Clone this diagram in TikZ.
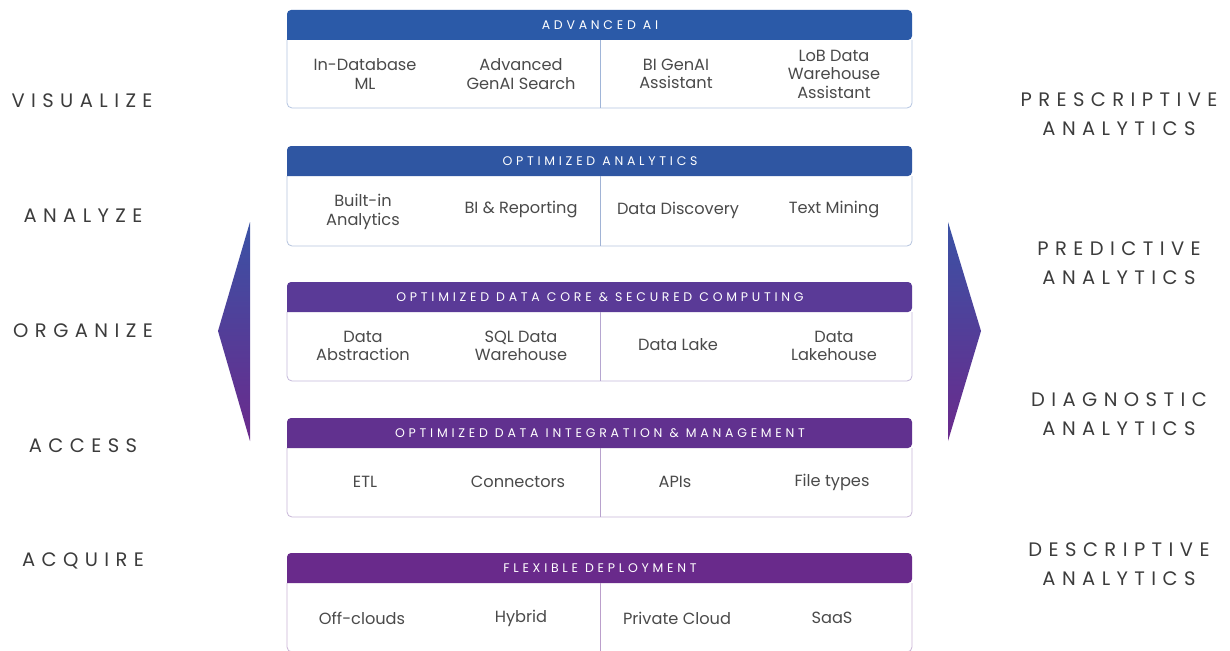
\documentclass[tikz,border=0pt]{standalone}
\usepackage{fontspec}
\setmainfont{Poppins}
\newfontfamily\sidefont[LetterSpace=33]{Poppins}
\newfontfamily\hdrfont[LetterSpace=30]{Poppins}
\definecolor{txt}{HTML}{3C3C3C}
\definecolor{celltxt}{HTML}{4A4A4A}
\definecolor{bandA}{HTML}{2B5AA8}
\definecolor{bandB}{HTML}{2F56A2}
\definecolor{bandC}{HTML}{5A3A97}
\definecolor{bandD}{HTML}{61318F}
\definecolor{bandE}{HTML}{692A8B}
\definecolor{arrtop}{HTML}{3A52A5}
\definecolor{arrbot}{HTML}{6B2A8C}
\newcommand\mkband[5]{%
  \draw[#3!35, line width=0.8pt, rounded corners=5pt] (287,#1+30) -- (287,#2) -- (912,#2) -- (912,#1+30);
  \fill[#3, rounded corners=4pt] (287,#1+30) -- (287,#1) -- (912,#1) -- (912,#1+30) [sharp corners] -- cycle;
  \draw[#3!45, line width=0.8pt] (600,#1+30) -- (600,#2);
  \node[hdrtext] (#5) at (600,#1+15.5) {#4};
}
\begin{document}
\begin{tikzpicture}[x=1pt,y=-1pt,
  hdrtext/.style={text=white, font=\hdrfont\fontsize{12.5}{14}\selectfont, inner sep=0pt},
  cell/.style={text=celltxt, align=center, font=\fontsize{16.2}{18.5}\selectfont, inner sep=0pt},
  sidelabel/.style={text=txt, align=center, font=\sidefont\fontsize{19.5}{28.5}\selectfont, inner sep=0pt}]
\useasboundingbox (0,0) rectangle (1230,650);
\fill[white] (0,0) rectangle (1230,650);

% bands
\mkband{10}{108}{bandA}{ADVANCED AI}{h1}
\mkband{146}{246}{bandB}{OPTIMIZED ANALYTICS}{h2}
\mkband{282}{381}{bandC}{OPTIMIZED DATA CORE \& SECURED COMPUTING}{h3}
\mkband{418}{517}{bandD}{OPTIMIZED DATA INTEGRATION \& MANAGEMENT}{h4}
\mkband{553}{652}{bandE}{FLEXIBLE DEPLOYMENT}{h5}

% band 1
\node[cell] (c11) at (365,74) {In-Database\\ML};
\node[cell] (c12) at (521,74) {Advanced\\GenAI Search};
\node[cell] (c13) at (676,74) {BI GenAI\\Assistant};
\node[cell] (c14) at (834,74) {LoB Data\\Warehouse\\Assistant};
% band 2
\node[cell] (c21) at (363,212) {Built-in\\Analytics};
\node[cell] (c22) at (521,210) {BI \& Reporting};
\node[cell] (c23) at (678,210) {Data Discovery};
\node[cell] (c24) at (834,210) {Text Mining};
% band 3
\node[cell] (c31) at (363,346) {Data\\Abstraction};
\node[cell] (c32) at (521,346) {SQL Data\\Warehouse};
\node[cell] (c33) at (678,345) {Data Lake};
\node[cell] (c34) at (834,346) {Data\\Lakehouse};
% band 4
\node[cell] (c41) at (365,482) {ETL};
\node[cell] (c42) at (518,482) {Connectors};
\node[cell] (c43) at (675,482) {APIs};
\node[cell] (c44) at (832,482) {File types};
% band 5
\node[cell] (c51) at (362,618) {Off-clouds};
\node[cell] (c52) at (521,618) {Hybrid};
\node[cell] (c53) at (677,618) {Private Cloud};
\node[cell] (c54) at (832,618) {SaaS};

% left labels
\node[sidelabel] (l1) at (82,101) {VISUALIZE};
\node[sidelabel] (l2) at (83,216) {ANALYZE};
\node[sidelabel] (l3) at (83,331) {ORGANIZE};
\node[sidelabel] (l4) at (83,446) {ACCESS};
\node[sidelabel] (l5) at (83,561) {ACQUIRE};

% right labels
\node[sidelabel] (r1) at (1119,114) {PRESCRIPTIVE\\ANALYTICS};
\node[sidelabel] (r2) at (1119,263) {PREDICTIVE\\ANALYTICS};
\node[sidelabel] (r3) at (1119,414) {DIAGNOSTIC\\ANALYTICS};
\node[sidelabel] (r4) at (1119,564) {DESCRIPTIVE\\ANALYTICS};

% gradient arrows
\shade[top color=arrtop, bottom color=arrbot] (250,222) -- (218,331) -- (250,441) -- cycle;
\shade[top color=arrtop, bottom color=arrbot] (948,222) -- (981,331) -- (948,441) -- cycle;
\end{tikzpicture}
\end{document}
